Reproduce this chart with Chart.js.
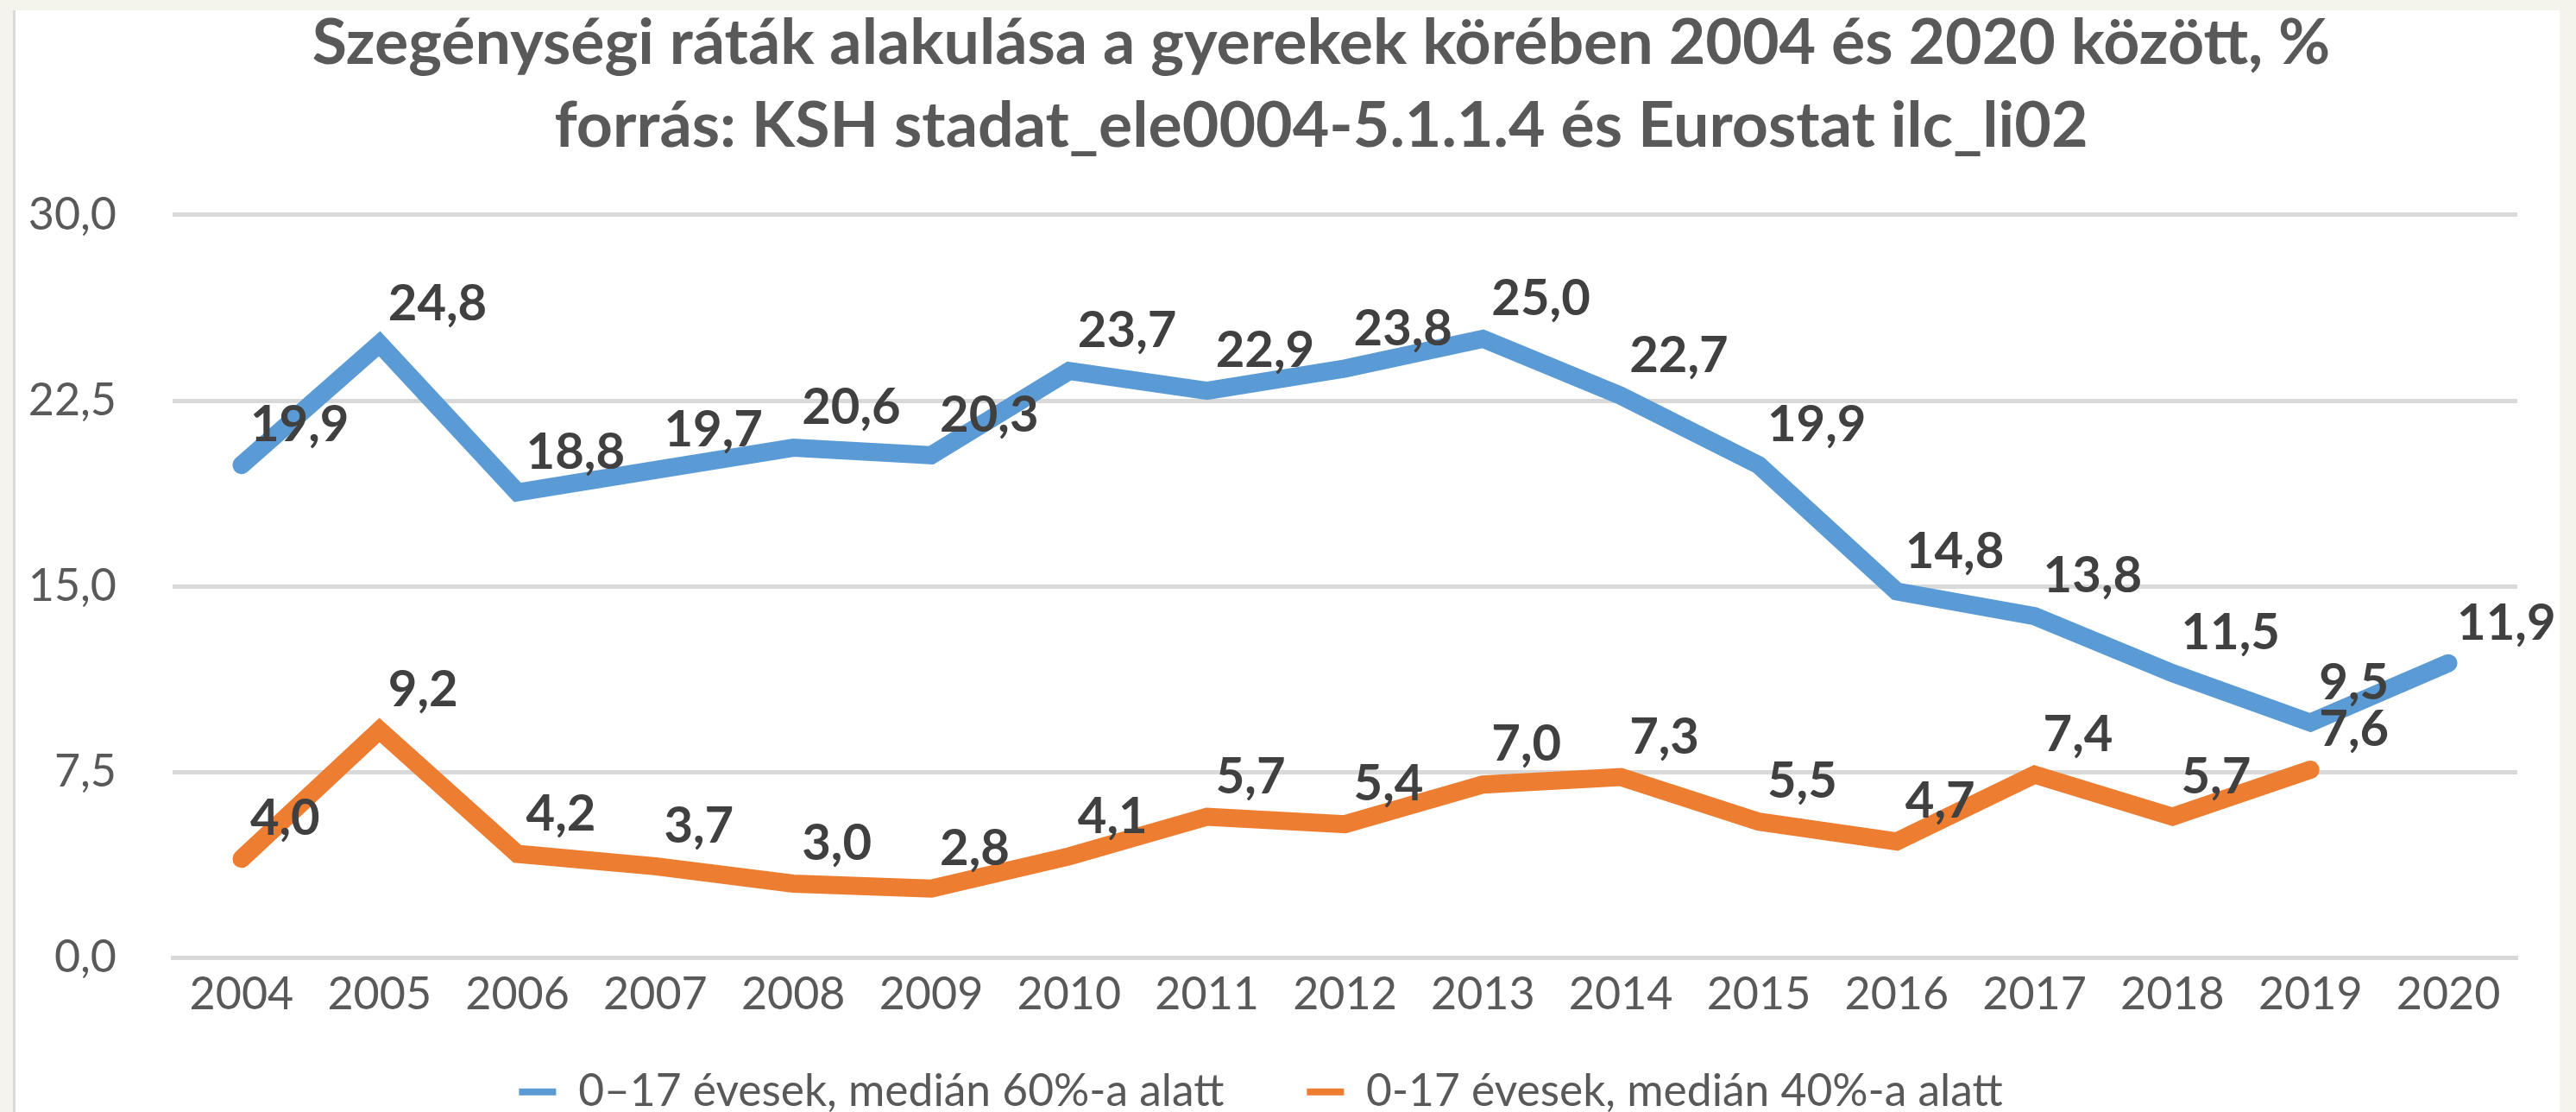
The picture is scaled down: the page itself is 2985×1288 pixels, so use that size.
<!DOCTYPE html>
<html>
<head>
<meta charset="utf-8">
<script src="https://cdn.jsdelivr.net/npm/chart.js@4/dist/chart.umd.min.js"></script>
<style>
  html, body { margin: 0; padding: 0; background: #F4F4EC; overflow: hidden; }
  #panel { position: absolute; left: 15px; top: 12px; width: 2951px; height: 1276px; background: #ffffff; border-left: 3px solid #D9D9D9; box-sizing: border-box; }
  #wrap { position: absolute; left: 0; top: 0; width: 2985px; height: 1288px; }
</style>
</head>
<body>
<div id="panel"></div>
<div id="wrap"><canvas id="c"></canvas></div>
<script>
const titleLines = ['Szegénységi ráták alakulása a gyerekek körében 2004 és 2020 között, %', 'forrás: KSH stadat_ele0004-5.1.1.4 és Eurostat ilc_li02'];
const years = ['2004','2005','2006','2007','2008','2009','2010','2011','2012','2013','2014','2015','2016','2017','2018','2019','2020'];
const seriesNames = ['0–17 évesek, medián 60%-a alatt', '0-17 évesek, medián 40%-a alatt'];
const below60 = [19.9, 24.8, 18.8, 19.7, 20.6, 20.3, 23.7, 22.9, 23.8, 25.0, 22.7, 19.9, 14.8, 13.8, 11.5, 9.5, 11.9];
const below40 = [4.0, 9.2, 4.2, 3.7, 3.0, 2.8, 4.1, 5.7, 5.4, 7.0, 7.3, 5.5, 4.7, 7.4, 5.7, 7.6, null];
const yTicks = [0, 7.5, 15, 22.5, 30];

const fmt = v => v.toFixed(1).replace('.', ',');

const labelPlugin = {
  id: 'valueLabels',
  afterDatasetsDraw(chart) {
    const ctx = chart.ctx;
    ctx.save();
    ctx.font = 'bold 58px Lato';
    ctx.fillStyle = '#404040';
    ctx.textAlign = 'left';
    ctx.textBaseline = 'middle';
    chart.data.datasets.forEach((ds, i) => {
      const meta = chart.getDatasetMeta(i);
      meta.data.forEach((pt, j) => {
        const v = ds.data[j];
        if (v === null || v === undefined) return;
        ctx.fillText(fmt(v), pt.x + 10, pt.y - 46);
      });
    });
    ctx.restore();
  }
};

// shift title / legend boxes horizontally and the legend vertically after layout
const placePlugin = {
  id: 'place',
  afterLayout(chart) {
    const t = chart.titleBlock;
    if (t) { t.left += 65; t.right += 65; }
    const lg = chart.legend;
    if (lg) {
      lg.left -= 5; lg.right -= 5;
      const dy = 1143 - lg.top;
      lg.top += dy; lg.bottom += dy;
    }
  }
};

new Chart(document.getElementById('c'), {
  type: 'line',
  data: {
    labels: years,
    datasets: [
      { label: seriesNames[0], data: below60, borderColor: '#5B9BD5', backgroundColor: '#5B9BD5', borderWidth: 21, pointRadius: 0, borderCapStyle: 'round', borderJoinStyle: 'miter', tension: 0 },
      { label: seriesNames[1], data: below40, borderColor: '#ED7D31', backgroundColor: '#ED7D31', borderWidth: 21, pointRadius: 0, borderCapStyle: 'round', borderJoinStyle: 'miter', tension: 0 }
    ]
  },
  options: {
    responsive: true,
    maintainAspectRatio: false,
    animation: false,
    layout: { padding: { left: 15, right: 68, top: 0, bottom: -54 } },
    plugins: {
      title: {
        display: true,
        text: titleLines,
        color: '#595959',
        font: { family: 'Lato', size: 73.5, weight: 'bold', lineHeight: 96 / 73.5 },
        padding: { top: 2, bottom: 55 }
      },
      legend: {
        position: 'bottom',
        labels: {
          color: '#595959',
          font: { family: 'Lato', size: 51.5 },
          boxWidth: 43,
          boxHeight: 8,
          padding: 96,
          generateLabels(chart) {
            return chart.data.datasets.map((ds, i) => ({
              text: ds.label, fillStyle: ds.borderColor, strokeStyle: ds.borderColor, lineWidth: 0, hidden: false, datasetIndex: i, fontColor: '#595959'
            }));
          }
        }
      },
      tooltip: { enabled: false }
    },
    scales: {
      x: {
        offset: true,
        afterFit(scale) { scale.height = 75; },
        grid: { display: false, drawTicks: false },
        border: { display: true, color: '#D9D9D9', width: 5 },
        ticks: { color: '#595959', font: { family: 'Lato', size: 52 }, padding: 12, maxRotation: 0, autoSkip: false }
      },
      y: {
        min: 0, max: 30,
        afterFit(scale) { scale.width = 185; },
        afterBuildTicks(scale) { scale.ticks = yTicks.map(v => ({ value: v })); },
        grid: { color: '#D9D9D9', lineWidth: 5, drawTicks: false },
        border: { display: false },
        ticks: { color: '#595959', font: { family: 'Lato', size: 52 }, padding: 65, callback: v => fmt(v) }
      }
    }
  },
  plugins: [labelPlugin, placePlugin]
});
</script>
</body>
</html>
